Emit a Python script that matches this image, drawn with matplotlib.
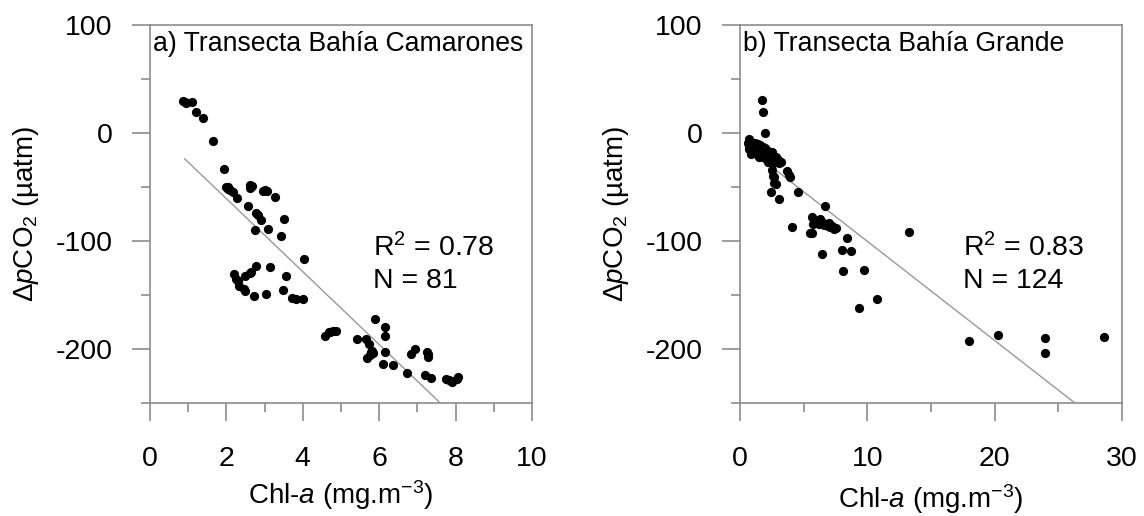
import numpy as np
import matplotlib
matplotlib.use("Agg")
from matplotlib import pyplot as plt
from matplotlib.ticker import MultipleLocator

plt.rcParams['font.family'] = ['Liberation Sans', 'DejaVu Sans']
plt.rcParams['mathtext.fontset'] = 'custom'
plt.rcParams['mathtext.rm'] = 'Liberation Sans'
plt.rcParams['mathtext.it'] = 'Liberation Sans:italic'
plt.rcParams['axes.unicode_minus'] = False

# a) Transecta Bahía Camarones
chl_a = [0.87, 0.92, 0.95, 1.09, 1.21, 1.38, 1.64, 1.93, 1.99, 2.04,
         2.05, 2.09, 2.16, 2.29, 2.62, 2.62, 2.66, 2.57, 2.77, 2.84,
         2.91, 2.74, 2.97, 3.00, 3.05, 3.28, 3.09, 3.52, 3.44, 4.02,
         2.21, 2.26, 2.30, 2.34, 2.45, 2.48, 2.48, 2.62, 2.65, 2.78,
         2.72, 3.13, 3.03, 3.55, 3.49, 3.71, 3.83, 4.00, 4.59, 4.68,
         4.72, 4.78, 4.88, 5.90, 6.14, 6.14, 5.43, 5.66, 5.72, 5.78,
         5.80, 5.85, 5.69, 5.75, 6.14, 6.09, 6.36, 6.72, 6.84, 6.94,
         7.26, 7.27, 7.29, 7.19, 7.36, 7.75, 7.84, 7.88, 7.91, 8.04,
         8.06]
dpco2_a = [30, 29, 28, 29, 19, 14, -7, -33, -50, -52,
           -50, -53, -55, -60, -48, -51, -49, -68, -74, -76,
           -81, -90, -54, -53, -54, -59, -89, -80, -95, -117,
           -131, -135, -137, -142, -144, -146, -132, -130, -129, -123,
           -151, -124, -149, -132, -145, -153, -154, -154, -188, -184,
           -184, -183, -183, -172, -180, -188, -191, -191, -195, -203,
           -202, -204, -208, -206, -203, -214, -215, -222, -205, -200,
           -203, -205, -207, -224, -227, -228, -229, -230, -231, -228,
           -226]
fit_x_a = [0.91, 7.60]
fit_y_a = [-24, -250]

# b) Transecta Bahía Grande
chl_b = [0.6, 0.7, 0.7, 0.8, 0.8, 0.85, 0.9, 0.95, 0.9, 1.0,
         1.05, 1.0, 1.1, 1.15, 1.1, 1.2, 1.25, 1.2, 1.3, 1.35,
         1.3, 1.4, 1.45, 1.5, 1.55, 1.5, 1.6, 1.65, 1.6, 1.7,
         1.75, 1.7, 1.8, 1.85, 1.8, 1.9, 1.95, 1.9, 2.0, 2.05,
         2.0, 2.1, 2.15, 2.1, 2.2, 2.25, 2.2, 2.3, 2.35, 2.3,
         2.4, 2.45, 2.4, 2.5, 2.55, 2.6, 2.65, 2.6, 2.7, 2.75,
         2.8, 2.85, 2.9, 2.95, 3.0, 3.05, 3.1, 3.2, 1.4, 1.6,
         2.0, 0.7, 1.2, 2.5, 1.8, 2.2, 0.9, 1.5,
         1.75, 1.83, 1.93, 2.48, 2.60, 2.69, 2.66, 2.79, 2.43, 3.08,
         3.70, 3.85, 3.92, 4.57, 4.07, 6.68, 5.69, 5.74, 5.85, 5.48,
         5.62, 6.47, 6.60, 6.80, 6.90, 7.00, 7.10, 7.25, 7.36, 6.30,
         8.41, 6.45, 8.00, 8.69, 8.06, 9.76, 9.34, 10.75, 13.3, 17.96,
         20.26, 23.94, 23.94, 28.58, 6.20, 7.50]
dpco2_b = [-9, -12, -15, -8, -11, -14, -10, -13, -16, -9,
           -12, -15, -11, -14, -17, -12, -15, -18, -13, -16,
           -19, -14, -17, -13, -16, -19, -15, -18, -21, -14,
           -17, -20, -16, -19, -22, -15, -18, -21, -17, -20,
           -23, -18, -21, -24, -17, -20, -23, -19, -22, -25,
           -20, -23, -26, -21, -24, -22, -25, -28, -23, -26,
           -22, -25, -24, -27, -25, -28, -26, -27, -10, -11,
           -14, -6, -9, -18, -13, -27, -19, -22,
           31, 19, 0, -34, -40, -46, -41, -47, -55, -61,
           -35, -39, -41, -55, -87, -68, -78, -84, -83, -93,
           -93, -82, -85, -84, -86, -83, -87, -86, -89, -80,
           -97, -112, -108, -109, -128, -127, -162, -154, -92, -193,
           -187, -190, -204, -189, -84, -88]
fit_x_b = [0.6, 26.3]
fit_y_b = [-14, -250]

W, H = 1144, 516
fig = plt.figure(figsize=(W / 100, H / 100), dpi=100)
gray = '#8c8c8c'


def panel(left, xs, ys, fx, fy, xmax, xmaj, xmin, title, r2, n):
    ax = fig.add_axes([left / W, (H - 403) / H, 382 / W, 378 / H])
    ax.scatter(xs, ys, s=44, color='black', linewidths=0, zorder=3)
    ax.plot(fx, fy, color='#999999', lw=1.0, zorder=2)
    ax.set_xlim(0, xmax)
    ax.set_ylim(-250, 100)
    ax.xaxis.set_major_locator(MultipleLocator(xmaj))
    ax.xaxis.set_minor_locator(MultipleLocator(xmin))
    ax.yaxis.set_major_locator(MultipleLocator(100))
    ax.yaxis.set_minor_locator(MultipleLocator(50))
    for sp in ax.spines.values():
        sp.set_color(gray)
        sp.set_linewidth(1.2)
    ax.tick_params(which='both', direction='out', color=gray, width=1.2)
    ax.tick_params(which='major', length=13, labelsize=20.5)
    ax.tick_params(which='minor', length=6.5)
    ax.tick_params(axis='x', which='major', pad=18)
    ax.tick_params(axis='y', which='major', pad=14)
    ax.text(0.009, 0.985, title, transform=ax.transAxes, fontsize=19.2,
            ha='left', va='top')
    ax.text(0.585, 0.388, r2, transform=ax.transAxes, fontsize=20.5,
            ha='left', va='baseline')
    ax.text(0.585, 0.304, n, transform=ax.transAxes, fontsize=20.5,
            ha='left', va='baseline')
    ax.set_ylabel('Δ$p$CO$_2$ (µatm)', fontsize=20)
    ax.yaxis.set_label_coords(-0.285, 0.5)
    return ax


ax1 = panel(150, chl_a, dpco2_a, fit_x_a, fit_y_a, 10, 2, 1,
            'a) Transecta Bahía Camarones', 'R$^2$ = 0.78', 'N = 81')
ax1.set_xlabel('Chl-$a$ (mg.m$^{-3}$)', fontsize=20)
ax1.xaxis.set_label_coords(0.5, -0.2)

ax2 = panel(740, chl_b, dpco2_b, fit_x_b, fit_y_b, 30, 10, 5,
            'b) Transecta Bahía Grande', 'R$^2$ = 0.83', 'N = 124')
ax2.set_xlabel('Chl-$a$ (mg.m$^{-3}$)', fontsize=20)
ax2.xaxis.set_label_coords(0.5, -0.21)

fig.savefig('out.png', dpi=100)
